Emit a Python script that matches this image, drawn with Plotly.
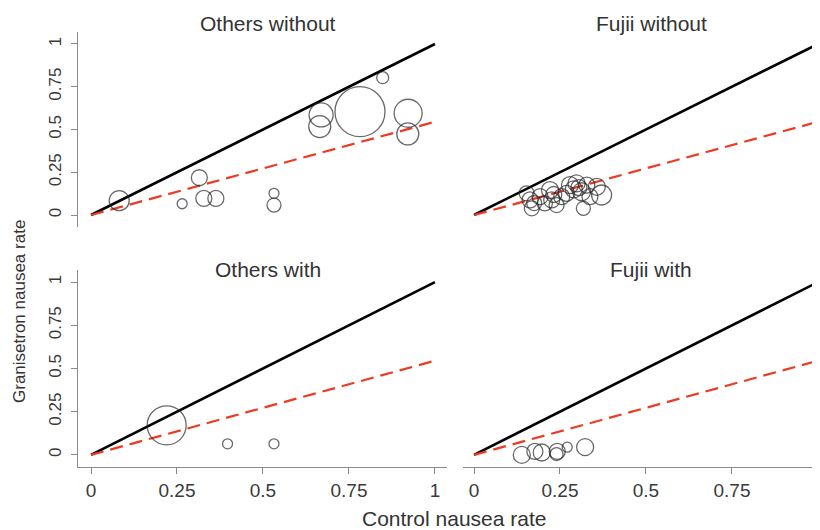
import plotly.graph_objects as go

# ---- data ----
panel_titles = ["Others without", "Fujii without", "Others with", "Fujii with"]

others_without_ctrl = [0.082, 0.265, 0.315, 0.328, 0.363, 0.532, 0.532, 0.669, 0.665, 0.782, 0.848, 0.922, 0.921]
others_without_gran = [0.084, 0.066, 0.218, 0.097, 0.097, 0.127, 0.058, 0.585, 0.517, 0.604, 0.803, 0.595, 0.474]
others_without_wt = [20, 10, 16, 16, 16, 10, 14, 24, 22, 50, 12, 28, 22]

fujii_without_ctrl = [0.163, 0.168, 0.192, 0.221, 0.226, 0.240, 0.255, 0.279, 0.298, 0.313, 0.328, 0.337,
                      0.318, 0.371, 0.357, 0.153, 0.206, 0.269, 0.175, 0.232, 0.290, 0.305]
fujii_without_gran = [0.088, 0.039, 0.107, 0.146, 0.088, 0.058, 0.107, 0.175, 0.185, 0.136, 0.175, 0.107,
                      0.039, 0.117, 0.165, 0.127, 0.068, 0.127, 0.070, 0.120, 0.150, 0.160]
fujii_without_wt = [16, 15, 16, 17, 16, 15, 16, 17, 17, 18, 16, 16,
                    14, 20, 17, 15, 15, 16, 15, 16, 17, 16]

others_with_ctrl = [0.220, 0.397, 0.532]
others_with_gran = [0.171, 0.064, 0.064]
others_with_wt = [39, 10, 10]

fujii_with_ctrl = [0.139, 0.177, 0.197, 0.242, 0.240, 0.271, 0.323]
fujii_with_gran = [0.000, 0.020, 0.014, 0.020, 0.005, 0.045, 0.045]
fujii_with_wt = [17, 16, 17, 16, 13, 10, 17]

identity_x = [0, 1]
identity_y = [0, 1]
fit_x = [0, 1]
fit_y = [0, 0.545]

tick_vals = [0, 0.25, 0.5, 0.75, 1]
tick_text = ["0", "0.25", "0.5", "0.75", "1"]

# ---- figure ----
# the page body has an 8px margin, so lay out in page pixels and shift by it
OFF = 8
W, H = 820 - OFF, 530 - OFF
fig = go.Figure()

panels = [
    (others_without_ctrl, others_without_gran, others_without_wt),
    (fujii_without_ctrl, fujii_without_gran, fujii_without_wt),
    (others_with_ctrl, others_with_gran, others_with_wt),
    (fujii_with_ctrl, fujii_with_gran, fujii_with_wt),
]

for i, (cx, gy, wt) in enumerate(panels):
    xa = "x" if i == 0 else f"x{i+1}"
    ya = "y" if i == 0 else f"y{i+1}"
    fig.add_trace(go.Scatter(x=identity_x, y=identity_y, mode="lines",
                             line=dict(color="black", width=2.6),
                             xaxis=xa, yaxis=ya, showlegend=False, hoverinfo="skip"))
    fig.add_trace(go.Scatter(x=fit_x, y=fit_y, mode="lines",
                             line=dict(color="#ee3a22", width=2.2, dash="13px,7px"),
                             xaxis=xa, yaxis=ya, showlegend=False, hoverinfo="skip"))
    fig.add_trace(go.Scatter(x=cx, y=gy, mode="markers",
                             marker=dict(symbol="circle-open", size=wt, sizemode="diameter",
                                         color="#2a2a2a", line=dict(width=1.3)),
                             xaxis=xa, yaxis=ya, showlegend=False, cliponaxis=False))

def px_x(a, b):
    return [max(0, (a - OFF) / W), min(1, (b - OFF) / W)]

def px_y(top, bottom):
    return [1 - (bottom - OFF) / H, 1 - (top - OFF) / H]

axis_common = dict(showgrid=False, zeroline=False, linecolor="#8a8a8a", linewidth=1.3,
                   tickcolor="#8a8a8a", ticklen=6, tickwidth=1.3, automargin=False,
                   tickvals=tick_vals, ticktext=tick_text, fixedrange=True)

left_dom = px_x(78, 447)
right_dom = px_x(463, 820)
top_dom = px_y(32, 227)
bot_dom = px_y(270, 467)
x_left_range = [-0.0378, 1.035]
x_right_range = [-0.032, 1.006]
y_range = [-0.07, 1.07]

layout = dict(
    template="none",
    width=W, height=H, margin=dict(l=0, r=0, t=0, b=0, pad=0, autoexpand=False),
    paper_bgcolor="white", plot_bgcolor="white", showlegend=False,
    xaxis=dict(domain=left_dom, range=x_left_range, anchor="y", showline=False, showticklabels=False, ticks="", **axis_common),
    yaxis=dict(domain=top_dom, range=y_range, anchor="x", showline=True, ticks="outside", tickangle=-90, ticklabelstandoff=3, **axis_common),
    xaxis2=dict(domain=right_dom, range=x_right_range, anchor="y2", showline=False, showticklabels=False, ticks="", **axis_common),
    yaxis2=dict(domain=top_dom, range=y_range, anchor="x2", showline=False, showticklabels=False, ticks="", **axis_common),
    xaxis3=dict(domain=left_dom, range=x_left_range, anchor="y3", showline=True, ticks="outside", **axis_common),
    yaxis3=dict(domain=bot_dom, range=y_range, anchor="x3", showline=True, ticks="outside", tickangle=-90, ticklabelstandoff=3, **axis_common),
    xaxis4=dict(domain=right_dom, range=x_right_range, anchor="y4", showline=True, ticks="outside", **axis_common),
    yaxis4=dict(domain=bot_dom, range=y_range, anchor="x4", showline=False, showticklabels=False, ticks="", **axis_common),
)
fig.update_layout(**layout)
fig.update_xaxes(tickfont=dict(family="Liberation Sans, Arial", size=19, color="#3a3a3a"))
fig.update_yaxes(tickfont=dict(family="Liberation Sans, Arial", size=17, color="#3a3a3a"))

title_font = dict(family="Liberation Sans, Arial", size=21, color="#333333")
title_pos = [(268, 23), (651, 23), (268, 269), (651, 269)]
annotations = []
for t, (x, y) in zip(panel_titles, title_pos):
    annotations.append(dict(text=t, x=(x - OFF) / W, y=1 - (y - OFF) / H, xref="paper", yref="paper",
                            showarrow=False, font=title_font, xanchor="center", yanchor="middle"))
annotations.append(dict(text="Granisetron nausea rate", x=(19 - OFF) / W, y=1 - (312 - OFF) / H,
                        xref="paper", yref="paper", showarrow=False, textangle=-90,
                        font=dict(family="Liberation Sans, Arial", size=17, color="#333333"),
                        xanchor="center", yanchor="middle"))
annotations.append(dict(text="Control nausea rate", x=(454 - OFF) / W, y=1 - (518 - OFF) / H,
                        xref="paper", yref="paper", showarrow=False,
                        font=dict(family="Liberation Sans, Arial", size=21, color="#333333"),
                        xanchor="center", yanchor="middle"))
fig.update_layout(annotations=annotations)

fig.write_html("out.html")
